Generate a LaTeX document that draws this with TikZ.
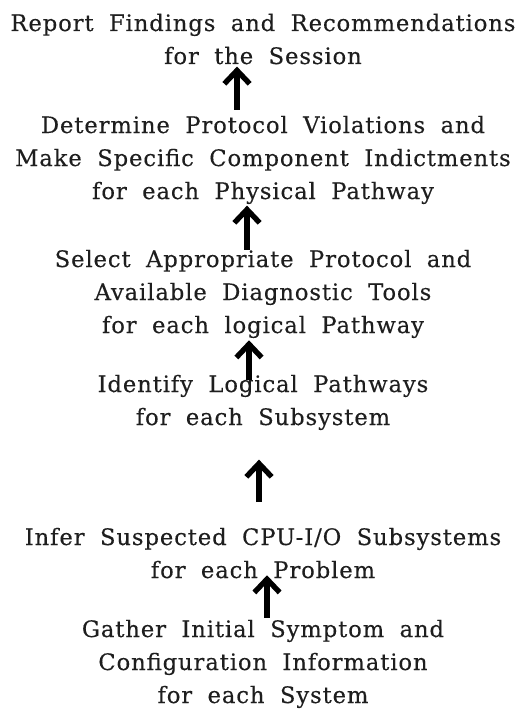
\documentclass[tikz,border=0pt]{standalone}
\usepackage{fontspec}
\setmainfont{DejaVu Serif}[WordSpace=1.9, LetterSpace=4, FakeBold=0.3]
\usetikzlibrary{arrows.meta}
\definecolor{diagInk}{HTML}{1E1E1E}
\definecolor{diagArrow}{HTML}{000000}
\tikzset{
  every picture/.style={font=\fontsize{17}{24.75}\selectfont, text=diagInk},
  diag text/.style={align=center, anchor=base, inner sep=0pt},
  diag arrow/.style={-{Straight Barb[length=10pt,width=19pt]},
    draw=diagArrow, line width=4pt, line cap=butt}
}
\begin{document}
\begin{tikzpicture}[x=0.75pt,y=-0.75pt]
  \useasboundingbox (0,0) rectangle (525,710);
  % steps, from the last one at the top down to the first
  % (anchor=base sits on the last line of each node)
  \node[diag text] (report) at (263,64) {Report Findings and Recommendations\\for the Session};
  \node[diag text] (determine) at (263,199) {Determine Protocol Violations and\\Make Specific Component Indictments\\for each Physical Pathway};
  \node[diag text] (select) at (263,333) {Select Appropriate Protocol and\\Available Diagnostic Tools\\for each logical Pathway};
  \node[diag text] (identify) at (263,425) {Identify Logical Pathways\\for each Subsystem};
  \node[diag text] (infer) at (263,578) {Infer Suspected CPU-I/O Subsystems\\for each Problem};
  \node[diag text] (gather) at (263,703) {Gather Initial Symptom and\\Configuration Information\\for each System};
  % arrows point upwards, each step feeds the one above
  \draw[diag arrow, shorten <=4.5pt, shorten >=1.5pt] ([xshift=-19.5pt]determine.north) -- ([xshift=-19.5pt]report.south);
  \draw[diag arrow, shorten <=0pt, shorten >=1pt] ([xshift=-12pt]select.north) -- ([xshift=-12pt]determine.south);
  \draw[diag arrow, shorten <=-4pt, shorten >=1.5pt] ([xshift=-10.5pt]identify.north) -- ([xshift=-10.5pt]select.south);
  \draw[diag arrow, shorten <=19pt, shorten >=22pt] ([xshift=-3pt]infer.north) -- ([xshift=-3pt]identify.south);
  \draw[diag arrow, shorten <=1.5pt, shorten >=-2.5pt] ([xshift=3pt]gather.north) -- ([xshift=3pt]infer.south);
\end{tikzpicture}
\end{document}
